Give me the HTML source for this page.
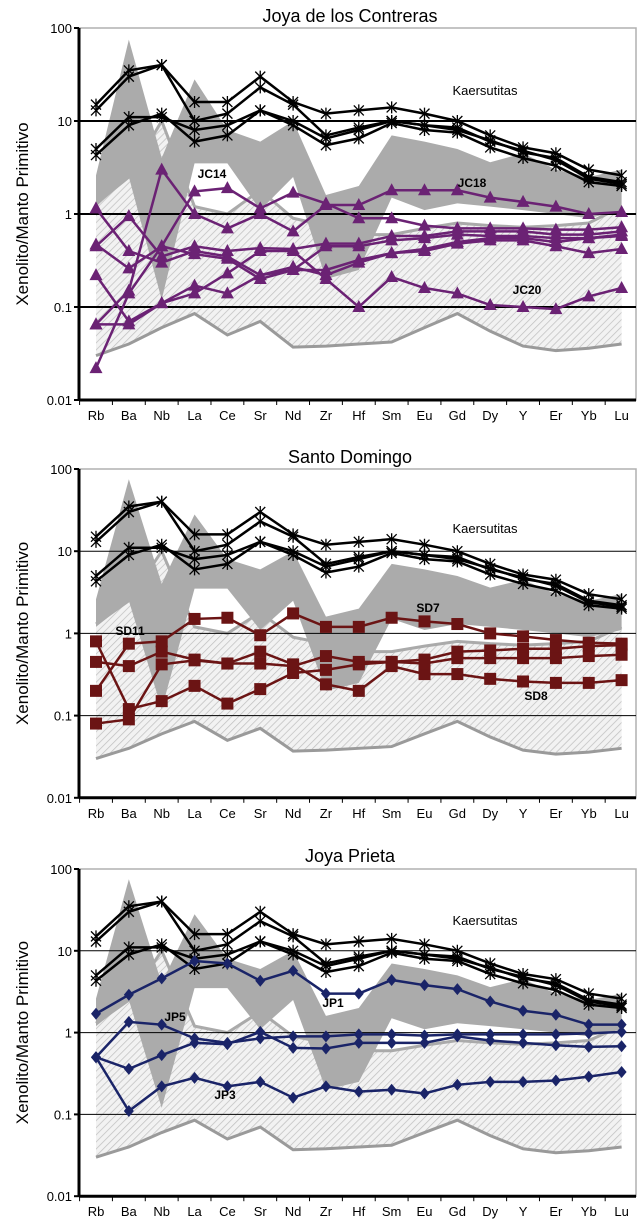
<!DOCTYPE html>
<html><head><meta charset="utf-8"><style>
html,body{margin:0;padding:0;background:#fff;}
svg{display:block;font-family:"Liberation Sans",Arial,sans-serif;}
</style></head><body>
<svg id="chart" width="642" height="1221" viewBox="0 0 642 1221" xmlns="http://www.w3.org/2000/svg">
<defs>
<pattern id="hatch" patternUnits="userSpaceOnUse" width="5" height="5" patternTransform="rotate(45)">
<rect width="5" height="5" fill="#f2f2f2"/>
<line x1="0" y1="0" x2="0" y2="5" stroke="#c0c0c0" stroke-width="1.5"/>
</pattern>
</defs>
</svg>
<script>
const categories=["Rb","Ba","Nb","La","Ce","Sr","Nd","Zr","Hf","Sm","Eu","Gd","Dy","Y","Er","Yb","Lu"];
const yTicks=[100,10,1,0.1,0.01];
const yTickLabels=["100","10","1","0.1","0.01"];
const kaers1=[15,35,40,16,16,30,16,12,13,14,12,10,7,5.2,4.5,3,2.6];
const kaers2=[13,30,40,10,12,23,15,7,8.5,10,9,8,6.2,4.6,4,2.5,2.2];
const kaers3=[5,11,11,8,9,13,10,6.5,8,10,9,8.5,6,4.8,3.8,2.4,2.1];
const kaers4=[4.3,9,12,6,7,13,9,5.5,6.5,9.5,8,7.5,5.2,4,3.3,2.2,2];
const bandUpper=[2.6,75,4,28,8,6,10,1.6,2,7,6,5,3.6,4.5,3,2.5,3];
const bandLower=[1.2,2.5,0.12,3.5,3.5,1.1,2.5,0.2,0.25,1.5,1.1,1.3,1.2,1.1,1.0,0.9,1.1];
const hatchUpper=[1.3,2.5,10,1.2,1.0,1.8,0.9,0.75,0.6,0.6,0.7,0.8,0.75,0.72,0.75,0.8,1.2];
const hatchLower=[0.03,0.04,0.06,0.085,0.05,0.07,0.037,0.038,0.04,0.042,0.06,0.085,0.055,0.038,0.034,0.036,0.04];
const jc18=[0.065,0.15,3,1.0,0.7,1.0,0.65,1.25,1.25,1.8,1.8,1.8,1.5,1.35,1.2,1.0,1.05];
const jc14=[0.47,0.26,0.45,1.75,1.9,1.15,1.7,1.3,0.9,0.9,0.75,0.7,0.7,0.7,0.68,0.68,0.72];
const jcA=[0.45,0.95,0.35,0.45,0.4,0.43,0.42,0.48,0.48,0.58,0.58,0.65,0.65,0.65,0.6,0.6,0.65];
const jcB=[1.15,0.4,0.3,0.4,0.35,0.22,0.25,0.25,0.32,0.38,0.4,0.48,0.52,0.52,0.45,0.38,0.42];
const jc20=[0.22,0.07,0.11,0.14,0.23,0.4,0.4,0.2,0.1,0.21,0.16,0.14,0.105,0.1,0.095,0.13,0.16];
const jcC=[0.065,0.065,0.11,0.17,0.14,0.22,0.27,0.22,0.3,0.38,0.42,0.5,0.55,0.55,0.5,0.55,0.58];
const jcD=[0.022,0.14,0.45,0.37,0.33,0.2,0.25,0.45,0.45,0.52,0.55,0.6,0.58,0.58,0.55,0.55,0.6];
const sd7=[0.2,0.75,0.8,1.5,1.55,0.95,1.75,1.2,1.2,1.55,1.4,1.3,1.0,0.92,0.83,0.77,0.75];
const sd11=[0.8,0.12,0.15,0.23,0.14,0.21,0.33,0.36,0.42,0.45,0.48,0.6,0.62,0.65,0.65,0.7,0.72];
const sd8=[0.45,0.4,0.6,0.48,0.43,0.6,0.42,0.24,0.2,0.4,0.32,0.32,0.28,0.26,0.25,0.25,0.27];
const sd4=[0.08,0.09,0.42,0.47,0.43,0.43,0.4,0.53,0.45,0.45,0.43,0.5,0.5,0.5,0.5,0.53,0.55];
const jp1=[1.7,2.9,4.6,7.5,7,4.3,5.7,3,3,4.4,3.8,3.4,2.4,1.85,1.65,1.25,1.25];
const jp5=[0.5,1.35,1.25,0.85,0.75,0.85,0.9,0.9,0.95,0.95,0.92,0.95,0.95,0.95,0.95,0.98,1.02];
const jpB=[0.5,0.36,0.53,0.75,0.72,1.02,0.65,0.64,0.75,0.75,0.75,0.9,0.8,0.75,0.7,0.67,0.68];
const jp3=[0.5,0.11,0.22,0.28,0.22,0.25,0.16,0.22,0.19,0.2,0.18,0.23,0.25,0.25,0.26,0.29,0.33];

const NS="http://www.w3.org/2000/svg";
const svg=document.getElementById('chart');
function mk(tag,attrs,parent){const e=document.createElementNS(NS,tag);for(const k in attrs)e.setAttribute(k,attrs[k]);(parent||svg).appendChild(e);return e;}

const panels=[
 {title:"Joya de los Contreras",titleY:22,y100:28,dec:93,grid:2,
  series:[jc18,jc14,jcA,jcB,jc20,jcC,jcD],color:"#6b2274",marker:"tri",
  labels:[["JC14",212,178],["JC18",472,187],["JC20",527,294]],kY:95,name:"joya-contreras"},
 {title:"Santo Domingo",titleY:463,y100:469,dec:82.2,grid:1,
  series:[sd7,sd11,sd8,sd4],color:"#6b1414",marker:"sq",
  labels:[["SD11",130,635],["SD7",428,612],["SD8",536,700]],kY:533,name:"santo-domingo"},
 {title:"Joya Prieta",titleY:862,y100:869,dec:81.8,grid:1,
  series:[jp1,jp5,jpB,jp3],color:"#1a2468",marker:"dia",
  labels:[["JP1",333,1007],["JP5",175,1021],["JP3",225,1099]],kY:925,name:"joya-prieta"}
];
const axL=79, axR=636, x0=96, dx=32.85;
function xs(i){return x0+i*dx;}

panels.forEach((p,pi)=>{
 const g=mk('g',{});
 
 
 const ys=v=>p.y100+(2-Math.log10(v))*p.dec;
 const yb=ys(0.01);
 const t=mk('text',{x:350,y:p.titleY,'text-anchor':'middle','font-size':18,fill:'#000'},g);t.textContent=p.title;
 
 const fr=mk('rect',{x:axL,y:p.y100,width:axR-axL,height:yb-p.y100,fill:'#fff',stroke:'#b0b0b0','stroke-width':1.5},g);
 
 let pts=[];
 hatchUpper.forEach((v,i)=>pts.push(xs(i)+','+ys(v)));
 for(let i=hatchLower.length-1;i>=0;i--)pts.push(xs(i)+','+ys(hatchLower[i]));
 const h=mk('polygon',{points:pts.join(' '),fill:'url(#hatch)',stroke:'none'},g);
 
 const hl=mk('polyline',{points:hatchLower.map((v,i)=>xs(i)+','+ys(v)).join(' '),fill:'none',stroke:'#9a9a9a','stroke-width':3},g);
 
 const hu=mk('polyline',{points:hatchUpper.map((v,i)=>xs(i)+','+ys(v)).join(' '),fill:'none',stroke:'#aaaaaa','stroke-width':3},g);
 
 pts=[];
 bandUpper.forEach((v,i)=>pts.push(xs(i)+','+ys(v)));
 for(let i=bandLower.length-1;i>=0;i--)pts.push(xs(i)+','+ys(bandLower[i]));
 const b=mk('polygon',{points:pts.join(' '),fill:'#ababab',stroke:'none'},g);
 
 [10,1,0.1].forEach(v=>{const l=mk('line',{x1:axL,x2:axR,y1:ys(v),y2:ys(v),stroke:'#000','stroke-width':p.grid},g);
  });
 const ya=mk('line',{x1:axL,x2:axL,y1:p.y100,y2:yb,stroke:'#000','stroke-width':3},g);
 
 const xa=mk('line',{x1:axL,x2:axR,y1:yb,y2:yb,stroke:'#000','stroke-width':3},g);
 
 yTicks.forEach((v,i)=>{mk('line',{x1:axL-5,x2:axL,y1:ys(v),y2:ys(v),stroke:'#000','stroke-width':2},g);
  const tx=mk('text',{x:axL-7,y:ys(v)+5,'text-anchor':'end','font-size':13},g);tx.textContent=yTickLabels[i];
  });
 categories.forEach((c,i)=>{mk('line',{x1:xs(i)-dx/2,x2:xs(i)-dx/2,y1:yb,y2:yb+5,stroke:'#000','stroke-width':1},g);
  const tx=mk('text',{x:xs(i),y:yb+20,'text-anchor':'middle','font-size':13},g);tx.textContent=c;
  });
 const yl=mk('text',{x:0,y:0,transform:`translate(28,${(p.y100+yb)/2}) rotate(-90)`,'text-anchor':'middle','font-size':17},g);
 yl.textContent="Xenolito/Manto Primitivo";
 
 [kaers1,kaers2,kaers3,kaers4].forEach(arr=>{
  const l=mk('polyline',{points:arr.map((v,i)=>xs(i)+','+ys(v)).join(' '),fill:'none',stroke:'#000','stroke-width':2.5},g);
  
  arr.forEach((v,i)=>{const x=xs(i),y=ys(v),s=5;
   mk('path',{d:`M${x-s} ${y-s}L${x+s} ${y+s}M${x-s} ${y+s}L${x+s} ${y-s}M${x} ${y-s-1}L${x} ${y+s+1}`,stroke:'#000','stroke-width':1.3},g);});
 });
 const kt=mk('text',{x:485,y:p.kY,'text-anchor':'middle','font-size':13},g);kt.textContent="Kaersutitas";
 
 p.series.forEach(arr=>{
  const l=mk('polyline',{points:arr.map((v,i)=>xs(i)+','+ys(v)).join(' '),fill:'none',stroke:p.color,'stroke-width':2.5},g);
  
  arr.forEach((v,i)=>{const x=xs(i),y=ys(v);let m;
   if(p.marker==='tri')m=mk('polygon',{points:`${x},${y-7} ${x-6.5},${y+5} ${x+6.5},${y+5}`,fill:p.color},g);
   else if(p.marker==='sq')m=mk('rect',{x:x-6,y:y-6,width:12,height:12,fill:p.color},g);
   else m=mk('polygon',{points:`${x},${y-6} ${x+5},${y} ${x},${y+6} ${x-5},${y}`,fill:p.color},g);
   });
 });
 p.labels.forEach(lb=>{const tx=mk('text',{x:lb[1],y:lb[2],'text-anchor':'middle','font-size':12,'font-weight':'bold'},g);
  tx.textContent=lb[0];});
});
</script>
</body></html>
